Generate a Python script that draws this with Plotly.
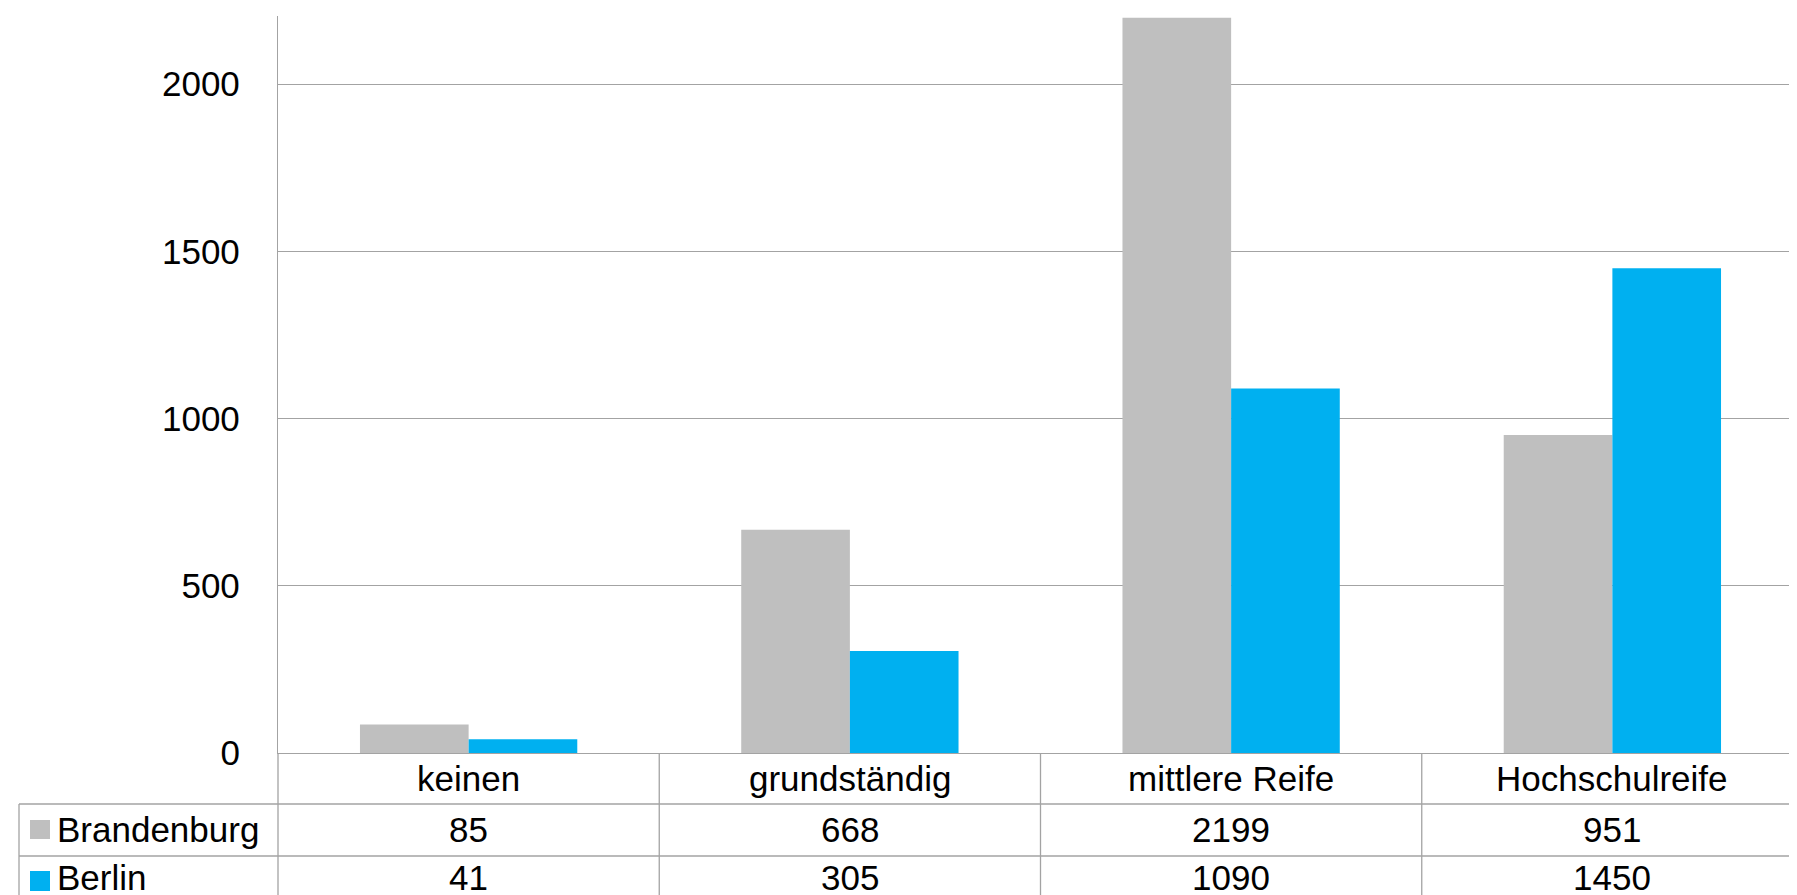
import plotly.graph_objects as go

categories = ["keinen", "grundständig", "mittlere Reife", "Hochschulreife"]
series_names = ["Brandenburg", "Berlin"]
brandenburg = [85, 668, 2199, 951]
berlin = [41, 305, 1090, 1450]
colors = ["#BFBFBF", "#00B0F0"]
y_ticks = [0, 500, 1000, 1500, 2000]

W, H = 1797, 895
L, R, T, B = 270, 2, 8, 150
PW = W - L - R
PH = H - T - B
LINE = "#A3A3A3"
FONT = "Liberation Sans, Arial, sans-serif"
FS = 35


def px_x(px):
    return (px - L) / PW


def px_y(py):
    return (H - B - py) / PH


fig = go.Figure()
for name, vals, col in zip(series_names, [brandenburg, berlin], colors):
    fig.add_trace(go.Bar(x=categories, y=vals, name=name, marker_color=col,
                         marker_line_width=0))

shapes = []
row1_top = px_y(796)
row2_top = px_y(848)
bottom = px_y(896)
left = px_x(11)
# y axis extension through header
shapes.append(dict(type="line", xref="paper", yref="paper", x0=0, x1=0,
                   y0=0, y1=bottom, line=dict(color=LINE, width=1.3)))
# category dividers
for i in range(1, len(categories)):
    shapes.append(dict(type="line", xref="x", yref="paper", x0=i - 0.5, x1=i - 0.5,
                       y0=0, y1=bottom, line=dict(color=LINE, width=1.3)))
# horizontal table lines
for yy in [row1_top, row2_top]:
    shapes.append(dict(type="line", xref="paper", yref="paper", x0=left, x1=1,
                       y0=yy, y1=yy, line=dict(color=LINE, width=1.3)))
# left border
shapes.append(dict(type="line", xref="paper", yref="paper", x0=left, x1=left,
                   y0=row1_top, y1=bottom, line=dict(color=LINE, width=1.3)))

annotations = []
row_centers = [px_y(821), px_y(869)]
key_boxes = [(812, 831), (863, 883)]
for name, vals, col, yc, (kt, kb) in zip(series_names, [brandenburg, berlin], colors,
                                         row_centers, key_boxes):
    shapes.append(dict(type="rect", xref="paper", yref="paper",
                       x0=px_x(22), x1=px_x(42), y0=px_y(kb), y1=px_y(kt),
                       fillcolor=col, line=dict(width=0)))
    annotations.append(dict(text=name, xref="paper", yref="paper", x=px_x(47), y=yc,
                            xanchor="left", yanchor="middle", showarrow=False,
                            font=dict(family=FONT, size=FS, color="black")))
    for c, v in zip(categories, vals):
        annotations.append(dict(text=str(v), xref="x", yref="paper", x=c, y=yc,
                                xanchor="center", yanchor="middle", showarrow=False,
                                font=dict(family=FONT, size=FS, color="black")))
# category header labels
for c in categories:
    annotations.append(dict(text=c, xref="x", yref="paper", x=c, y=px_y(770),
                            xanchor="center", yanchor="middle", showarrow=False,
                            font=dict(family=FONT, size=FS, color="black")))

fig.update_layout(
    width=W, height=H,
    margin=dict(l=L, r=R, t=T, b=B, pad=0),
    paper_bgcolor="white", plot_bgcolor="white",
    barmode="group", bargap=0.43, bargroupgap=0,
    showlegend=False,
    font=dict(family=FONT, size=FS, color="black"),
    shapes=shapes, annotations=annotations,
    xaxis=dict(showticklabels=False, showgrid=False, zeroline=False,
               showline=True, linecolor=LINE, linewidth=1.3, ticks="",
               range=[-0.5, len(categories) - 0.5]),
    yaxis=dict(range=[0, 2204], tickvals=y_ticks, ticks="", showgrid=True,
               gridcolor=LINE, gridwidth=1.3, zeroline=False,
               showline=True, linecolor=LINE, linewidth=1.3,
               ticklabelstandoff=30,
               tickfont=dict(family=FONT, size=FS, color="black")),
)

fig.write_html("out.html")
